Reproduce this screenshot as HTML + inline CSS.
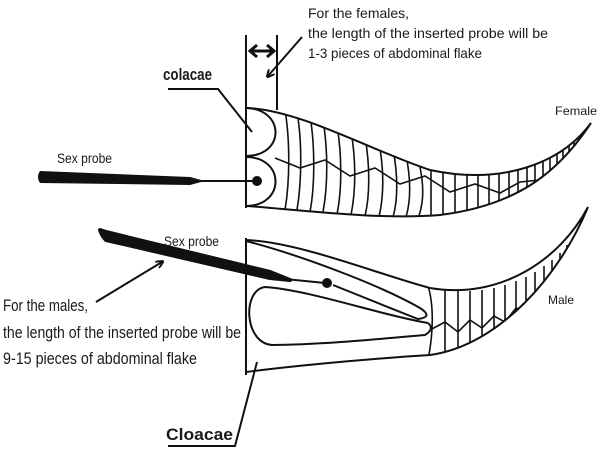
<!DOCTYPE html>
<html><head><meta charset="utf-8"><style>
html,body{margin:0;padding:0;background:#fff;}
svg{display:block;}
text{font-family:"Liberation Sans",sans-serif;fill:#1a1a1a;}
</style></head><body>
<svg width="600" height="450" viewBox="0 0 600 450" xmlns="http://www.w3.org/2000/svg">
<defs>
<clipPath id="fc"><path d="M247,108 C300,110 370,150 430,170 C500,185 560,165 591,123 C560,170 520,205 440,215 C380,220 300,210 247,206 Z"/></clipPath>
<clipPath id="mc"><path d="M246,240 C300,242 380,275 430,288 C500,300 560,260 588,207 C560,275 500,345 430,355 C380,358 300,365 246,372 Z"/></clipPath>
<marker id="ah" markerWidth="8" markerHeight="8" refX="6" refY="4" orient="auto" markerUnits="userSpaceOnUse"><path d="M0,0 L8,4 L0,8" fill="none" stroke="#111" stroke-width="2"/></marker>
</defs>
<g stroke="#111" fill="none" stroke-width="2">
<line x1="246" y1="35" x2="246" y2="208"/>
<line x1="277" y1="35" x2="277" y2="110"/>
<line x1="251" y1="51" x2="273" y2="51" stroke-width="3"/>
<path d="M257,45 L250,51 L257,57 M267,45 L274,51 L267,57" stroke-width="3"/>
<line x1="302" y1="37" x2="268" y2="76" marker-end="url(#ah)"/>
<path d="M247,108 C300,110 370,150 430,170 C500,185 560,165 591,123 C560,170 520,205 440,215 C380,220 300,210 247,206"/>
<path d="M247,108 C285,110 285,155 247,156 M247,157 C285,158 285,205 247,206"/>
<g clip-path="url(#fc)" stroke-width="1.6">
<path d="M275,158 L300,168 L325,160 L350,176 L375,168 L400,184 L425,176 L450,192 L475,184 L500,193 L520,182 L540,180 L555,166 L570,158 L580,146"/>
<path d="M285,110 C290,140 290,180 285,210 M297,112 C302,140 302,180 297,210 M310,116 C315,145 315,185 310,212 M323,120 C328,150 328,185 323,212 M337,126 C342,155 342,190 337,214 M351,131 C356,160 356,190 351,215 M365,137 C370,165 370,195 365,216 M379,143 C384,170 384,195 379,217 M393,149 C398,175 398,200 393,217 M406,155 C411,180 411,200 406,217 M419,162 C424,185 424,200 419,216 M431,168 V215 M443,170 V214 M455,171 V213 M467,172 V212 M478,172 V211 M489,171 V209 M499,170 V207 M509,168 V204 M518,166 V200 M527,163 V197 M535,160 V193 M543,156 V188 M550,152 V182 M557,148 V176 M563,144 V170 M569,140 V164 M574,136 V158 M579,132 V150 M584,128 V142"/>
</g>
<path d="M40,171 L190,177 L205,181 L190,185 L40,183 Q36,177 40,171 Z" fill="#111" stroke="none"/>
<line x1="200" y1="181" x2="256" y2="181"/>
<circle cx="257" cy="181" r="4" fill="#111"/>
<path d="M168,89 L218,89 L252,132"/>
<line x1="246" y1="238" x2="246" y2="375"/>
<path d="M246,240 C300,242 380,275 430,288 C500,300 560,260 588,207 C560,275 500,345 430,355 C380,358 300,365 246,372"/>
<path d="M246,241 C300,255 380,285 420,308 Q434,317 418,319 C390,308 350,292 333,285"/>
<path d="M428,323 C380,315 310,290 265,287 C242,290 244,343 272,345 C320,345 390,338 425,335 Q435,329 428,323"/>
<g clip-path="url(#mc)" stroke-width="1.6">
<path d="M426,280 C434,300 434,330 428,360"/>
<path d="M445,290 V360 M458,291 V358 M470,291 V356 M482,290 V353 M494,288 V350 M505,285 V347 M516,281 V343 M526,277 V338 M535,272 V333 M544,266 V326 M552,260 V318 M560,253 V309 M567,245 V299 M573,238 V289 M579,230 V278 M584,221 V266"/>
<path d="M430,330 L445,322 L458,332 L470,320 L482,328 L494,316 L505,322 L516,308 L526,312 L535,298 L544,300 L552,288 L560,287 L567,276 L573,272 L579,260"/>
</g>
<path d="M100,230 Q102,236 106,240 L270,278 L290,280 L270,272 L106,232 Z" fill="#111" stroke="#111" stroke-width="4" stroke-linejoin="round"/>
<line x1="285" y1="279" x2="325" y2="283"/>
<circle cx="327" cy="283" r="4" fill="#111"/>
<line x1="96" y1="302" x2="162" y2="262" marker-end="url(#ah)"/>
<path d="M168,446 L235,446 L257,362"/>
</g>
<g font-size="14">
<text x="308" y="18" textLength="101" lengthAdjust="spacingAndGlyphs">For the females,</text>
<text x="308" y="38" textLength="240" lengthAdjust="spacingAndGlyphs">the length of the inserted probe will be</text>
<text x="308" y="58" textLength="174" lengthAdjust="spacingAndGlyphs">1-3 pieces of abdominal flake</text>
</g>
<text x="163" y="80" font-size="17" font-weight="bold" textLength="49" lengthAdjust="spacingAndGlyphs">colacae</text>
<text x="57" y="163" font-size="14" textLength="55" lengthAdjust="spacingAndGlyphs">Sex probe</text>
<text x="164" y="246" font-size="14" textLength="55" lengthAdjust="spacingAndGlyphs">Sex probe</text>
<text x="555" y="115" font-size="12" textLength="42" lengthAdjust="spacingAndGlyphs">Female</text>
<text x="548" y="304" font-size="12" textLength="26" lengthAdjust="spacingAndGlyphs">Male</text>
<g font-size="17">
<text x="3" y="311" textLength="85" lengthAdjust="spacingAndGlyphs">For the males,</text>
<text x="3" y="338" textLength="238" lengthAdjust="spacingAndGlyphs">the length of the inserted probe will be</text>
<text x="3" y="364" textLength="194" lengthAdjust="spacingAndGlyphs">9-15 pieces of abdominal flake</text>
</g>
<text x="166" y="440" font-size="17" font-weight="bold" textLength="67" lengthAdjust="spacingAndGlyphs">Cloacae</text>
</svg>
</body></html>
